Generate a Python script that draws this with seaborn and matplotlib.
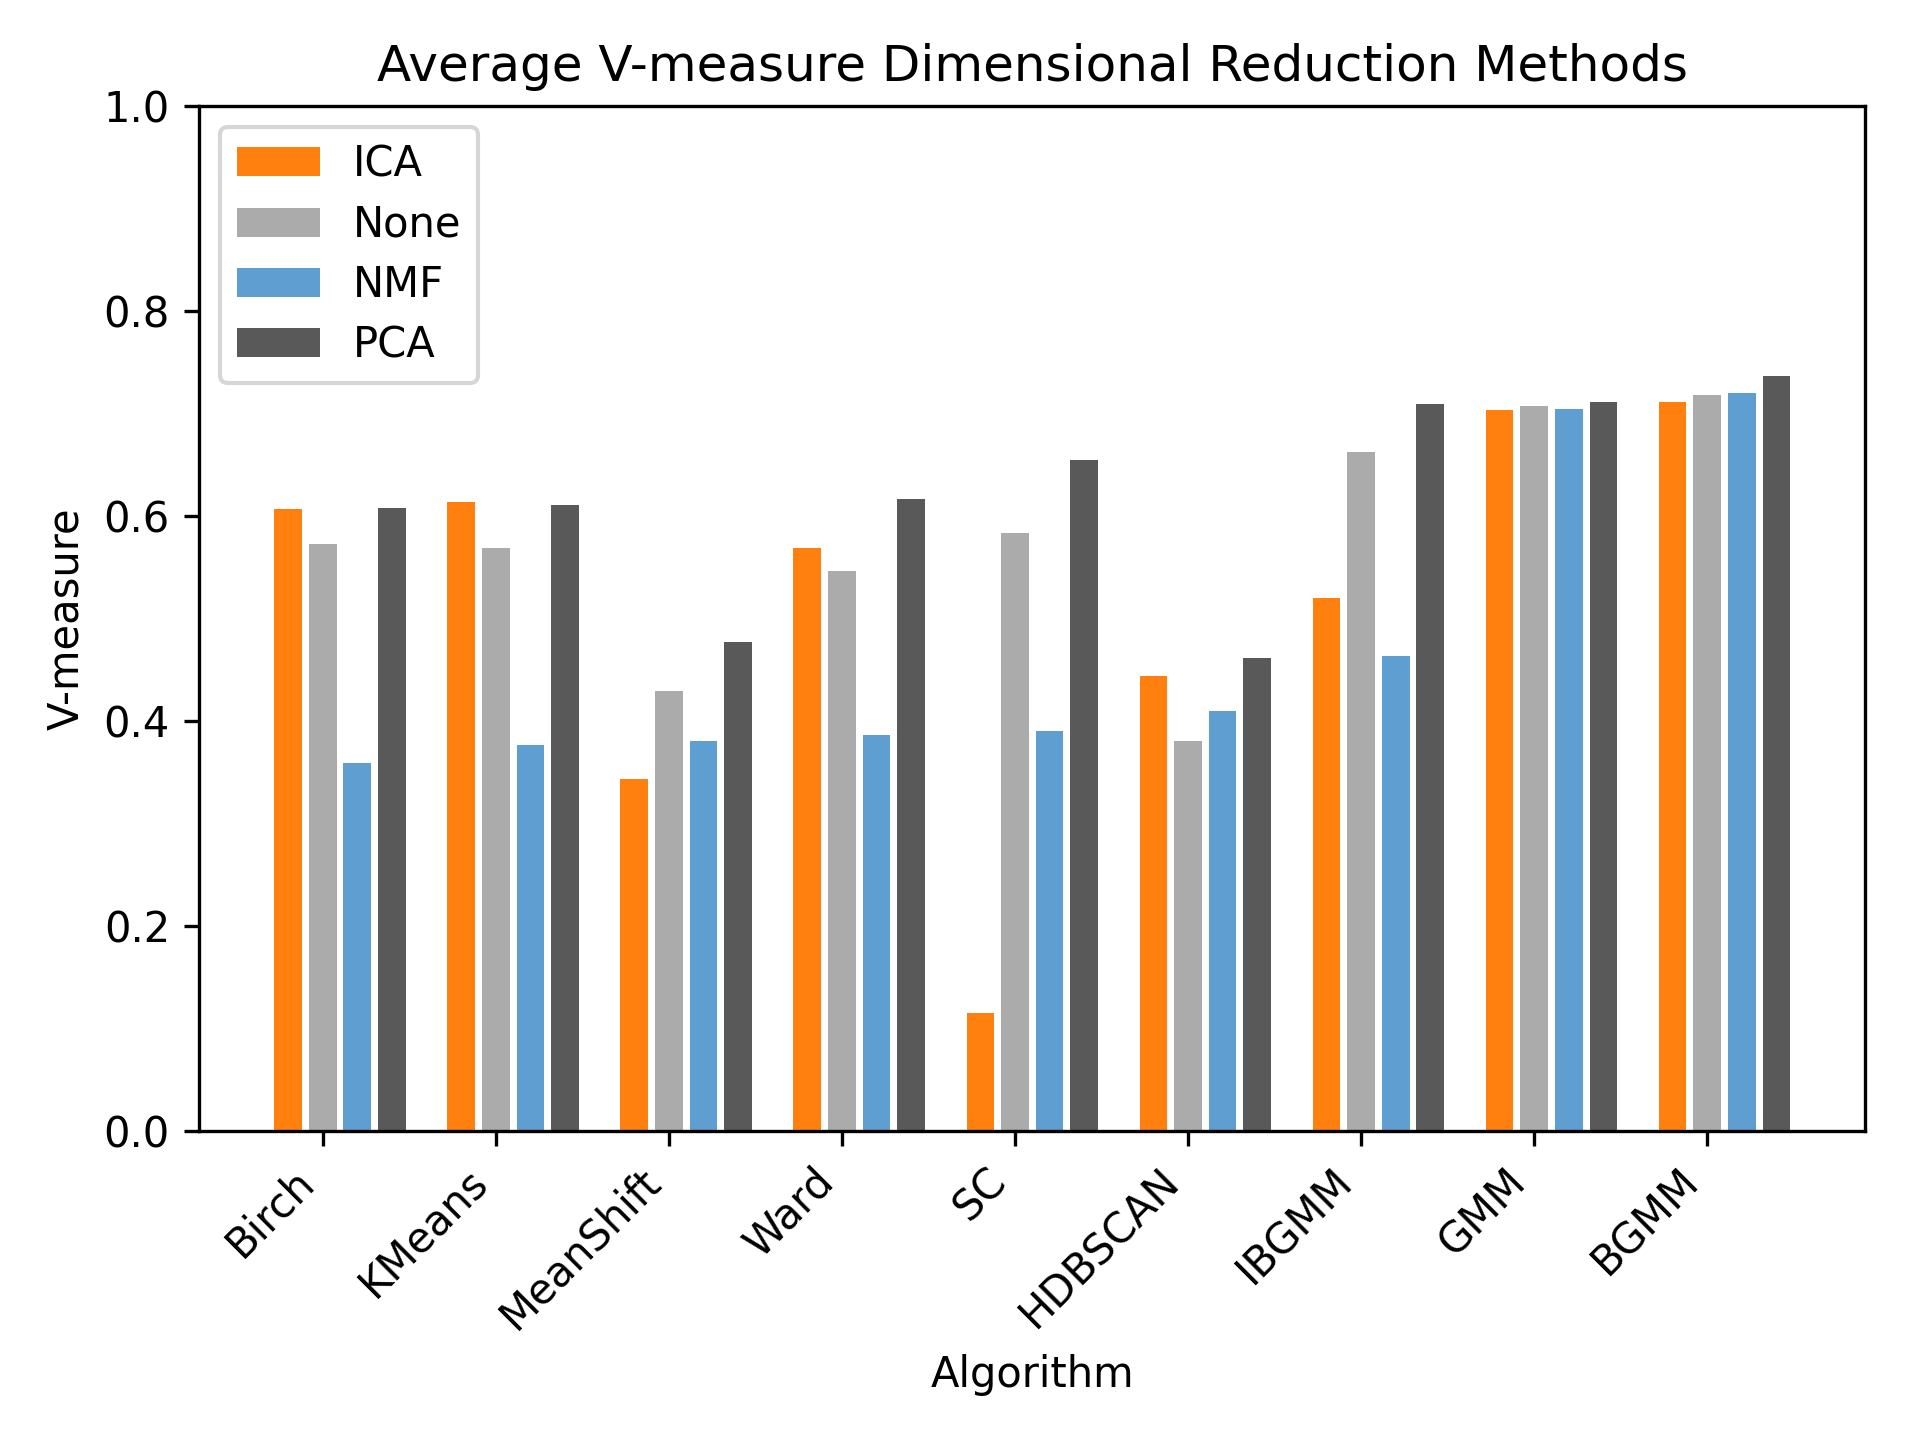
import matplotlib
matplotlib.use("Agg")
import matplotlib.pyplot as plt
import numpy as np
import pandas as pd
import seaborn as sns

algorithms = ["Birch", "KMeans", "MeanShift", "Ward", "SC",
              "HDBSCAN", "IBGMM", "GMM", "BGMM"]
methods = ["ICA", "None", "NMF", "PCA"]

ica = [0.607, 0.614, 0.343, 0.569, 0.115, 0.444, 0.520, 0.703, 0.711]
none = [0.573, 0.569, 0.429, 0.546, 0.583, 0.380, 0.662, 0.707, 0.718]
nmf = [0.359, 0.377, 0.380, 0.386, 0.390, 0.410, 0.463, 0.704, 0.720]
pca = [0.608, 0.611, 0.477, 0.617, 0.655, 0.461, 0.709, 0.711, 0.737]

colors = ["#FF800E", "#ABABAB", "#5F9ED1", "#595959"]

# long-form table for seaborn
pos = np.arange(len(algorithms))
df = pd.DataFrame({
    "pos": np.tile(pos + 0.1, len(methods)),
    "method": np.repeat(methods, len(algorithms)),
    "vmeasure": ica + none + nmf + pca,
})

fig, ax = plt.subplots(figsize=(6.4, 4.8), dpi=300)
sns.barplot(data=df, x="pos", y="vmeasure", hue="method", hue_order=methods,
            palette=colors, native_scale=True, width=0.8, gap=0.2,
            saturation=1, errorbar=None, ax=ax)

ax.set_xticks(pos)
ax.set_xticklabels(algorithms, rotation=45, ha="right")
ax.set_xlim(-0.714, 8.912)
ax.set_ylim(0, 1.0)
ax.set_xlabel("Algorithm")
ax.set_ylabel("V-measure")
ax.set_title("Average V-measure Dimensional Reduction Methods")
ax.legend(loc="upper left", labelspacing=0.44)

plt.subplots_adjust(left=0.1037, right=0.9714, top=0.9264, bottom=0.2146)
plt.savefig("out.png", dpi=300)
